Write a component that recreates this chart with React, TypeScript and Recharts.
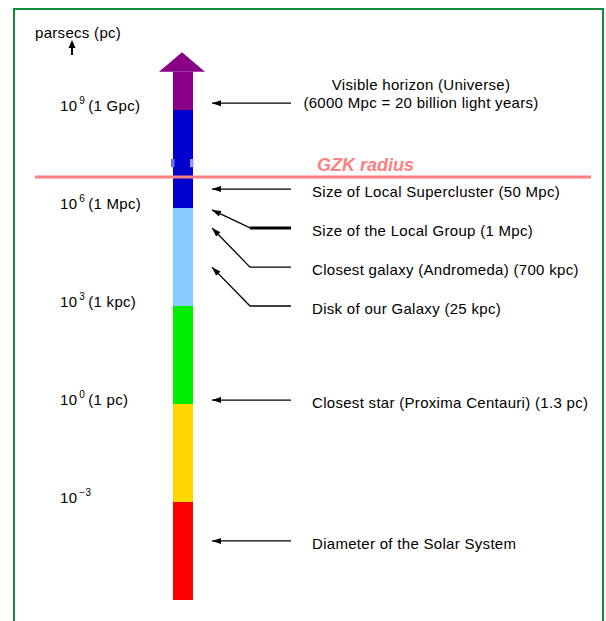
import React from 'react';
import { ComposedChart, XAxis, YAxis, ReferenceArea, ReferenceLine, Line, Scatter } from 'recharts';

const W = 606;
const H = 621;
const FONT = '"Liberation Sans", Arial, sans-serif';
const TEXT_SIZE = 15;
const SPACING = 0.3;

// every value below is log10(distance / parsec)
const bandStart = [-6, -3, 0, 3, 6, 9];
const bandEnd = [-3, 0, 3, 6, 9, 10.17];
const bandColors = ['#ff0000', '#ffd700', '#00ee00', '#88ccff', '#0000cc', '#880088'];
const arrowTop = 10.77;

const decadeTicks = [9, 6, 3, 0, -3];
const decadeNames = ['(1 Gpc)', '(1 Mpc)', '(1 kpc)', '(1 pc)', ''];

const gzkRadius = 6.95;
const gzkMark = [7.25, 7.5];

const pointerHead = [9.21, 6.58, 5.94, 5.39, 4.19, 0.12, -4.19];
const pointerTail = [9.21, 6.58, 5.39, 4.19, 3.0, 0.12, -4.19];
const pointerText = [
  ['Visible horizon (Universe)', '(6000 Mpc = 20 billion light years)'],
  ['Size of Local Supercluster (50 Mpc)'],
  ['Size of the Local Group (1 Mpc)'],
  ['Closest galaxy (Andromeda) (700 kpc)'],
  ['Disk of our Galaxy (25 kpc)'],
  ['Closest star (Proxima Centauri) (1.3 pc)'],
  ['Diameter of the Solar System'],
];

// layout (pixels along the hidden x axis)
const Y_MIN = -6.642;
const Y_MAX = 12.367;
const PX = H / (Y_MAX - Y_MIN);
const BAR_X1 = 173;
const BAR_X2 = 193;
const BAR_CX = 182;
const HEAD_X = 212;
const BEND_X = 250;
const TAIL_X = 291;
const TEXT_X = 312;
const BOLD_TAIL = 2;

function DecadeTick(props: any) {
  const { y, payload, index } = props;
  const exp = payload.value < 0 ? '\u2212' + Math.abs(payload.value) : String(payload.value);
  return (
    <text x={60} y={y + 1} fontFamily={FONT} fontSize={TEXT_SIZE} letterSpacing={SPACING} fill="#000">
      <tspan>10</tspan>
      <tspan dx={2} dy={-7} fontSize={10}>{exp}</tspan>
      <tspan dx={3} dy={7}>{decadeNames[index]}</tspan>
    </text>
  );
}

function AxisTitle() {
  return (
    <g>
      <text x={35} y={38} fontFamily={FONT} fontSize={TEXT_SIZE} letterSpacing={SPACING} fill="#000">
        parsecs (pc)
      </text>
      <line x1={72} y1={55} x2={72} y2={46} stroke="#000" strokeWidth={2} />
      <polygon points="72,40 68.5,48 75.5,48" fill="#000" />
    </g>
  );
}

const ArrowCap = (props: any) => {
  const { cx, cy } = props;
  const base = cy + (arrowTop - bandEnd[5]) * PX;
  return <polygon points={`${cx},${cy} ${cx + 23},${base} ${cx - 23},${base}`} fill={bandColors[5]} />;
};

const headDot = (i: number) => (props: any) => {
  const { cx, cy, index, key } = props;
  if (index !== 0) return <g key={key} />;
  const dx = BEND_X - HEAD_X;
  const dy = (pointerHead[i] - pointerTail[i]) * PX;
  const len = Math.hypot(dx, dy);
  const ux = dx / len;
  const uy = dy / len;
  const bx = cx + ux * 9;
  const by = cy + uy * 9;
  const nx = -uy * 3;
  const ny = ux * 3;
  return (
    <polygon
      key={key}
      points={`${cx},${cy} ${bx + nx},${by + ny} ${bx - nx},${by - ny}`}
      fill="#000"
    />
  );
};

const PointerLabel = (props: any) => {
  const { cx, cy, payload } = props;
  const lines: string[] = payload.lines;
  const common = { fontFamily: FONT, fontSize: TEXT_SIZE, letterSpacing: SPACING, fill: '#000' };
  if (lines.length > 1) {
    return (
      <g>
        <text x={421} y={cy - 13} textAnchor="middle" {...common}>{lines[0]}</text>
        <text x={421} y={cy + 5} textAnchor="middle" {...common}>{lines[1]}</text>
      </g>
    );
  }
  return (
    <text x={cx} y={cy + 8} {...common}>{lines[0]}</text>
  );
};

const GzkLabel = (props: any) => (
  <text x={props.cx} y={props.cy - 6} fontFamily={FONT} fontSize={18} fontWeight="bold" fontStyle="italic" fill="#ff8080">
    GZK radius
  </text>
);

export default function App() {
  const labelData = pointerText.map((lines, i) => ({ x: TEXT_X, y: pointerTail[i], lines }));
  return (
    <div style={{ position: 'fixed', left: 0, top: 0, width: W, height: H, overflow: 'hidden', background: '#fff' }}>
      <div
        style={{
          position: 'absolute',
          left: 13,
          top: 8,
          width: 587,
          height: H,
          borderStyle: 'solid',
          borderColor: '#128a3c',
          borderWidth: '2px 2px 0 2px',
        }}
      />
      <div style={{ position: 'absolute', left: 0, top: 0 }}>
        <ComposedChart width={W} height={H} margin={{ top: 0, right: 0, bottom: 0, left: 0 }}>
          <XAxis type="number" dataKey="x" domain={[0, W]} hide allowDataOverflow />
          <YAxis
            type="number"
            dataKey="y"
            domain={[Y_MIN, Y_MAX]}
            ticks={decadeTicks}
            interval={0}
            mirror
            axisLine={false}
            tickLine={false}
            tick={(p: any) => <DecadeTick {...p} />}
            label={<AxisTitle />}
            allowDataOverflow
          />
          {bandStart.map((from, i) => (
            <ReferenceArea
              key={`band-${i}`}
              x1={BAR_X1}
              x2={BAR_X2}
              y1={from}
              y2={bandEnd[i]}
              fill={bandColors[i]}
              fillOpacity={1}
              stroke="none"
              ifOverflow="visible"
            />
          ))}
          <Scatter data={[{ x: BAR_CX, y: arrowTop }]} shape={ArrowCap} isAnimationActive={false} />
          <ReferenceArea x1={171} x2={174.5} y1={gzkMark[0]} y2={gzkMark[1]} fill="#7070ee" fillOpacity={1} stroke="none" />
          <ReferenceArea x1={190} x2={193.5} y1={gzkMark[0]} y2={gzkMark[1]} fill="#9999f0" fillOpacity={1} stroke="none" />
          <ReferenceLine
            segment={[{ x: 35, y: gzkRadius }, { x: 591, y: gzkRadius }]}
            stroke="#ff8080"
            strokeWidth={3}
            ifOverflow="visible"
          />
          <Scatter data={[{ x: 317, y: gzkRadius }]} shape={GzkLabel} isAnimationActive={false} />
          {pointerHead.map((head, i) => (
            <Line
              key={`ptr-${i}`}
              data={[
                { x: HEAD_X, y: head },
                { x: BEND_X, y: pointerTail[i] },
                { x: TAIL_X, y: pointerTail[i] },
              ]}
              dataKey="y"
              type="linear"
              stroke="#000"
              strokeWidth={1.3}
              dot={headDot(i)}
              activeDot={false}
              isAnimationActive={false}
            />
          ))}
          <Line
            data={[
              { x: BEND_X, y: pointerTail[BOLD_TAIL] },
              { x: TAIL_X, y: pointerTail[BOLD_TAIL] },
            ]}
            dataKey="y"
            stroke="#000"
            strokeWidth={3}
            dot={false}
            activeDot={false}
            isAnimationActive={false}
          />
          <Scatter data={labelData} shape={PointerLabel} isAnimationActive={false} />
        </ComposedChart>
      </div>
    </div>
  );
}
